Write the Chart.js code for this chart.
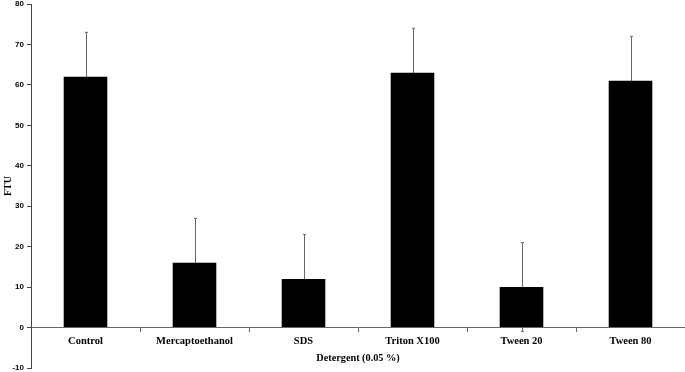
<!DOCTYPE html>
<html lang="en">
<head>
  <meta charset="UTF-8">
  <title>FTU by detergent</title>
  <script src="https://cdn.jsdelivr.net/npm/chart.js@4.4.0/dist/chart.umd.min.js"></script>
  <style>
    html, body { margin: 0; padding: 0; background: #fff; }
    canvas { display: block; }
  </style>
</head>
<body>
  <canvas id="ftuChart" width="685" height="372"></canvas>
  <script>
    const categories = ["Control", "Mercaptoethanol", "SDS", "Triton X100", "Tween 20", "Tween 80"];
    const ftuValues = [62, 16, 12, 63, 10, 61];
    const ftuErrors = [11, 11, 11, 11, 11, 11];
    const yTicks = [-10, 0, 10, 20, 30, 40, 50, 60, 70, 80];

    // error bars drawn before the bars so the lower half sits behind them
    const errorBars = {
      id: "errorBars",
      beforeDatasetsDraw(chart) {
        const ctx = chart.ctx;
        const x = chart.scales.x, y = chart.scales.y;
        ctx.save();
        ctx.strokeStyle = "#666";
        ctx.lineWidth = 1;
        ftuValues.forEach((v, i) => {
          const px = Math.round(x.getPixelForValue(i)) + 0.5;
          const top = y.getPixelForValue(v + ftuErrors[i]);
          const bot = y.getPixelForValue(v - ftuErrors[i]);
          ctx.beginPath();
          ctx.moveTo(px, top); ctx.lineTo(px, bot);
          ctx.moveTo(px - 1.5, top); ctx.lineTo(px + 1.5, top);
          ctx.moveTo(px - 1.5, bot); ctx.lineTo(px + 1.5, bot);
          ctx.stroke();
        });
        ctx.restore();
      }
    };

    new Chart(document.getElementById("ftuChart"), {
      type: "bar",
      data: {
        labels: categories,
        datasets: [{
          data: ftuValues,
          backgroundColor: "#000",
          barPercentage: 0.4,
          categoryPercentage: 1
        }]
      },
      options: {
        responsive: false,
        animation: false,
        layout: { padding: { top: 4, bottom: 4, left: 0, right: 0 } },
        plugins: { legend: { display: false }, tooltip: { enabled: false } },
        scales: {
          x: {
            position: { y: 0 },
            grid: { drawOnChartArea: false, drawTicks: true, tickLength: 4, color: "#666" },
            border: { color: "#666", width: 1 },
            ticks: {
              color: "#000",
              padding: 3,
              maxRotation: 0,
              autoSkip: false,
              font: { family: "'Liberation Serif', 'Times New Roman', serif", size: 10.5, weight: "bold" }
            },
            title: {
              display: true,
              text: "Detergent (0.05 %)",
              color: "#000",
              padding: { top: 2, bottom: 0 },
              font: { family: "'Liberation Serif', 'Times New Roman', serif", size: 10.25, weight: "bold" }
            }
          },
          y: {
            min: -10,
            max: 80,
            afterBuildTicks(scale) { scale.ticks = yTicks.map(v => ({ value: v })); },
            afterFit(scale) {
              scale.width = 31;
              scale.paddingTop = 0;
              scale.paddingBottom = 0;
            },
            grid: { drawOnChartArea: false, drawTicks: true, tickLength: 4, color: "#444" },
            border: { color: "#444", width: 1 },
            ticks: {
              color: "#000",
              padding: 3,
              font: { family: "'Liberation Sans', Arial, sans-serif", size: 8, weight: "bold" }
            },
            title: {
              display: true,
              text: "FTU",
              color: "#000",
              padding: { top: 2, bottom: 0 },
              font: { family: "'Liberation Serif', 'Times New Roman', serif", size: 10, weight: "bold" }
            }
          }
        }
      },
      plugins: [errorBars]
    });
  </script>
</body>
</html>
